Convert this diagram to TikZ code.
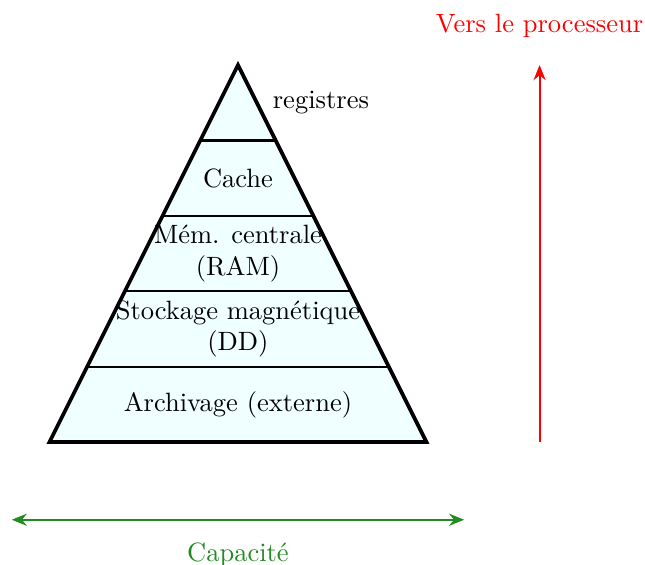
\documentclass[tikz,border=0pt]{standalone}
\usepackage{tikz}
\usetikzlibrary{positioning,calc,arrows.meta}
\usepackage{xcolor}
\definecolor{levelfill}{RGB}{240,255,255}
\definecolor{capgreen}{RGB}{34,139,34}

\begin{document}
\begin{tikzpicture}[
  level/.style={align=center, inner sep=1pt},
  sep/.style={thick},
  axis/.style={thick, -{Stealth[length=2mm,width=1.6mm]}}
]
\useasboundingbox (-3.156,-1.618) rectangle (5.398,5.863);

% Pyramid
\coordinate (apex) at (0,5);
\coordinate (bl) at (-2.5,0);
\coordinate (br) at (2.5,0);
\fill[levelfill] (bl) -- (br) -- (apex) -- cycle;
\foreach \y in {1,...,4}
  \draw[sep] ($(bl)!\y/5!(apex)$) -- ($(br)!\y/5!(apex)$);
\draw[line width=1.4pt, line join=miter] (bl) -- (br) -- (apex) -- cycle;

% Levels
\node[level] (arch) at (0,0.5) {Archivage (externe)};
\node[level] (disk) at (0,1.5) {Stockage magnétique\\(DD)};
\node[level] (ram) at (0,2.5) {Mém. centrale\\(RAM)};
\node[level] (cache) at (0,3.5) {Cache};
\node[level] (reg) at (1.1,4.5) {registres};

% Processor direction
\coordinate (cpulow) at (4,0);
\coordinate (cpuhigh) at (4,5);
\draw[axis, red] (cpulow) -- (cpuhigh);
\node[red] (cpu) at (4,5.52) {Vers le processeur};

% Capacity
\coordinate (capleft) at (-3,-1.03);
\coordinate (capright) at (3,-1.03);
\draw[axis, capgreen, {Stealth[length=2mm,width=1.6mm]}-{Stealth[length=2mm,width=1.6mm]}] (capleft) -- (capright);
\node[capgreen] (cap) at (0,-1.5) {Capacité};
\end{tikzpicture}
\end{document}
